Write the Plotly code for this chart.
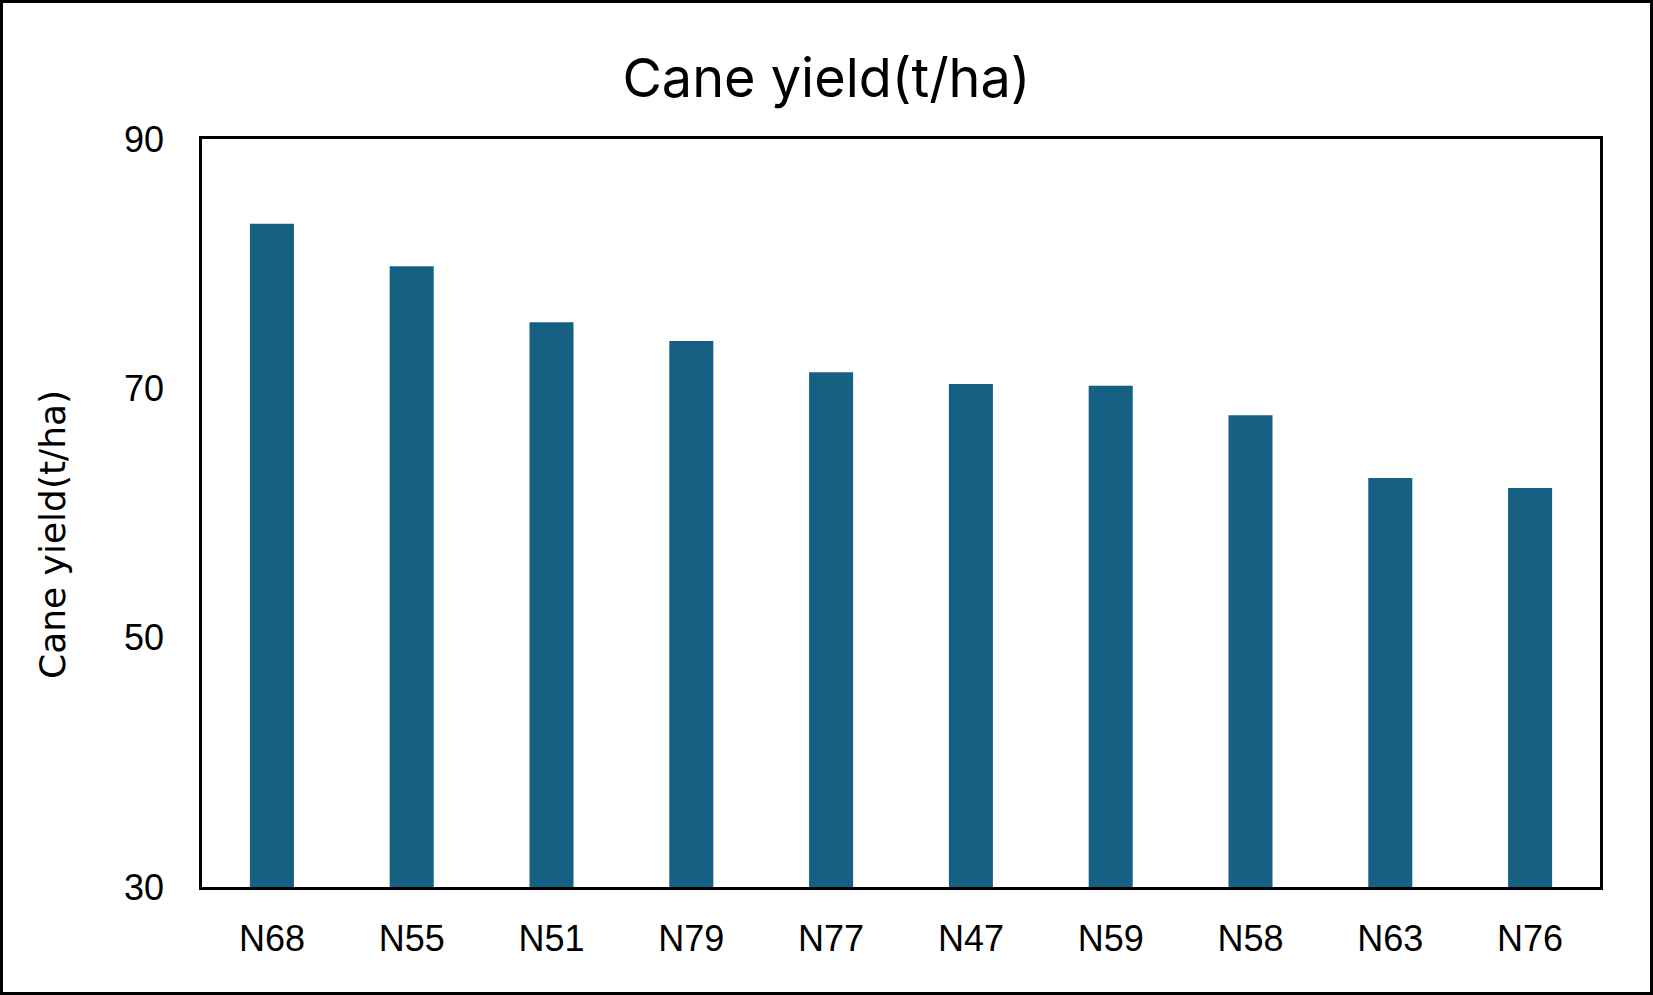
import plotly.graph_objects as go

categories = ["N68", "N55", "N51", "N79", "N77", "N47", "N59", "N58", "N63", "N76"]
cane_yield = [83.2, 79.8, 75.3, 73.8, 71.3, 70.35, 70.2, 67.85, 62.8, 62.0]
y_ticks = [30, 50, 70, 90]
title_text = "Cane yield(t/ha)"
y_title_text = "Cane yield(t/ha)"

W, H = 1653, 995
ML, MR, MT, MB = 202, 53, 139, 108
PW, PH = W - ML - MR, H - MT - MB

fig = go.Figure(
    go.Bar(
        x=categories,
        y=cane_yield,
        marker=dict(color="#166083", line=dict(width=0)),
        width=0.315,
        hoverinfo="x+y",
    )
)

fig.update_layout(
    width=W,
    height=H,
    margin=dict(l=ML, r=MR, t=MT, b=MB, autoexpand=False),
    paper_bgcolor="white",
    plot_bgcolor="white",
    showlegend=False,
    title=dict(
        text=title_text,
        x=0.5,
        xanchor="center",
        xref="container",
        y=1 - 78 / H,
        yanchor="middle",
        font=dict(family="Inter, Open Sans, sans-serif", size=54, color="black"),
    ),
    font=dict(family="Liberation Sans, Arial, sans-serif", color="black"),
)

fig.update_xaxes(
    showline=True,
    linecolor="black",
    linewidth=2.5,
    mirror=True,
    showgrid=False,
    ticks="",
    tickfont=dict(size=36, family="Liberation Sans, Arial, sans-serif", color="black"),
    ticklabelstandoff=18,
)

fig.update_yaxes(
    range=[30, 90],
    tickvals=y_ticks,
    showline=True,
    linecolor="black",
    linewidth=2.5,
    mirror=True,
    showgrid=False,
    zeroline=False,
    ticks="",
    tickfont=dict(size=36, family="Liberation Sans, Arial, sans-serif", color="black"),
    ticklabelstandoff=28,
    automargin=False,
)

# y-axis title (placed slightly below the plot centre, as in the reference)
fig.add_annotation(
    text=y_title_text,
    textangle=-90,
    xref="paper",
    yref="paper",
    x=(52 - ML) / PW,
    y=(H - MB - 535) / PH,
    xanchor="center",
    yanchor="middle",
    showarrow=False,
    font=dict(size=36, family="DejaVu Sans, sans-serif", color="black"),
)

# outer frame around the whole image
fig.add_shape(
    type="rect",
    xref="paper",
    yref="paper",
    x0=(-ML + 1.5) / PW,
    x1=1 + (MR - 1.5) / PW,
    y0=(-MB + 1.5) / PH,
    y1=1 + (MT - 1.5) / PH,
    line=dict(color="black", width=3),
    fillcolor="rgba(0,0,0,0)",
    layer="above",
)

fig.write_html(
    "out.html",
    config={"displayModeBar": False},
    post_script="document.body.style.margin='0';document.body.style.overflow='hidden';",
)
